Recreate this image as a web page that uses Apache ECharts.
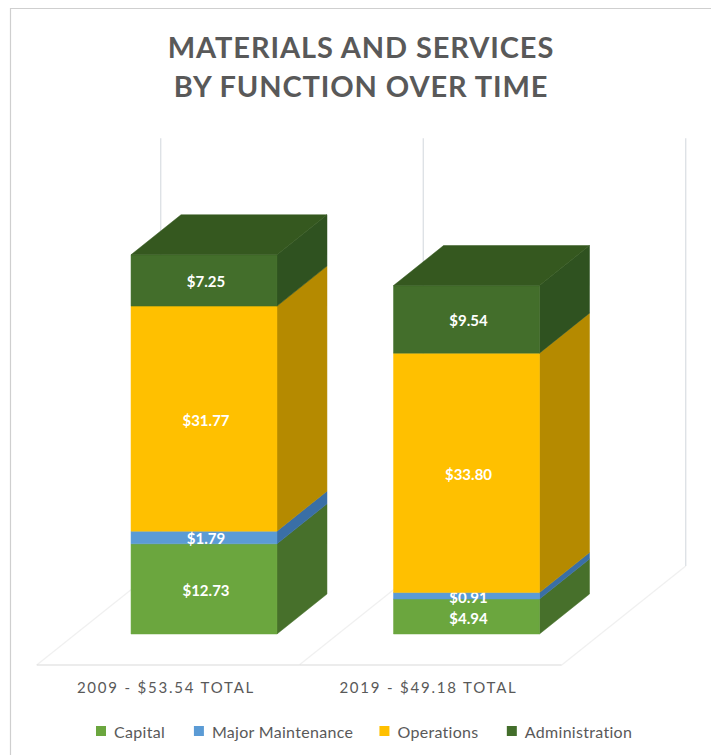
<!DOCTYPE html>
<html>
<head>
<meta charset="utf-8">
<style>html,body{margin:0;padding:0;background:#fff}#c{width:711px;height:755px}</style>
<script src="https://cdn.jsdelivr.net/npm/echarts@6/dist/echarts.min.js"></script>
</head>
<body>
<div id="c"></div>
<script>
const titleText = 'MATERIALS AND SERVICES\nBY FUNCTION OVER TIME';
const categories = ['2009 - $53.54 TOTAL', '2019 - $49.18 TOTAL'];
const seriesNames = ['Capital', 'Major Maintenance', 'Operations', 'Administration'];
const capital = [12.73, 4.94];
const majorMaintenance = [1.79, 0.91];
const operations = [31.77, 33.80];
const administration = [7.25, 9.54];
const valuesBySeries = [capital, majorMaintenance, operations, administration];
const frontColors = ['#6BA63E', '#5B9BD5', '#FFC000', '#436E2B'];
const sideColors = ['#47702B', '#3A6FA6', '#B58A00', '#2F5220'];
const topColor = '#35581F';

const depthX = 50, depthY = -40;          // bar depth in pixels
const barShare = 0.556;                   // bar width / band width
const floorFront = [-36, 31], floorBack = [88, -68];

function renderBar(seriesIndex) {
  return function (params, api) {
    const cat = api.value(0), lo = api.value(1), hi = api.value(2);
    const c0 = api.coord([cat, lo]), c1 = api.coord([cat, hi]);
    const w = api.size([1, 0])[0] * barShare;
    const xL = c0[0] - w / 2, xR = c0[0] + w / 2, yB = c0[1], yT = c1[1];
    const side = sideColors[seriesIndex], front = frontColors[seriesIndex];
    const children = [
      { type: 'polygon', shape: { points: [[xR, yB], [xR + depthX, yB + depthY], [xR + depthX, yT + depthY], [xR, yT]] },
        style: { fill: side, stroke: side, lineWidth: 0.5 } },
      { type: 'rect', shape: { x: xL, y: yT, width: w, height: yB - yT },
        style: { fill: front, stroke: front, lineWidth: 0.5 } }
    ];
    if (seriesIndex === valuesBySeries.length - 1) {
      children.push({ type: 'polygon',
        shape: { points: [[xL, yT], [xL + depthX, yT + depthY], [xR + depthX, yT + depthY], [xR, yT]] },
        style: { fill: topColor, stroke: topColor, lineWidth: 0.5 } });
    }
    children.push({ type: 'text', z2: 10,
      style: { text: '$' + (hi - lo).toFixed(2), x: c0[0] + 2, y: (yB + yT) / 2 + 1, align: 'center', verticalAlign: 'middle',
        fill: '#ffffff', font: 'bold 15px Lato, "Open Sans", sans-serif' } });
    return { type: 'group', children };
  };
}

function renderWall(params, api) {
  const i = api.value(0);
  const band = api.size([1, 0])[0];
  const base = api.coord([0, 0]);
  const x = base[0] - band / 2 + i * band, y = base[1];
  const topY = api.coord([0, 70])[1];
  const line = (a, b, stroke) => ({ type: 'line',
    shape: { x1: a[0], y1: a[1], x2: b[0], y2: b[1] }, style: { stroke, lineWidth: 1.2 } });
  const f = [x + floorFront[0], y + floorFront[1]];
  const k = [x + floorBack[0], y + floorBack[1]];
  const kids = [ line(f, k, '#f0f0f0'), line(k, [k[0], topY], '#d9dde2') ];
  if (i < categories.length) {
    kids.push(line(f, [f[0] + band, f[1]], '#d9d9d9'));
  }
  return { type: 'group', children: kids };
}

const barSeries = seriesNames.map((name, s) => ({
  name, type: 'custom', coordinateSystem: 'cartesian2d',
  itemStyle: { color: frontColors[s] }, z: 5 + s,
  encode: { x: 0, y: [1, 2] },
  renderItem: renderBar(s),
  data: categories.map((_, c) => {
    let lo = 0;
    for (let j = 0; j < s; j++) lo += valuesBySeries[j][c];
    return [c, lo, lo + valuesBySeries[s][c]];
  })
}));

const chart = echarts.init(document.getElementById('c'), null, { renderer: 'svg' });
chart.setOption({
  animation: false,
  backgroundColor: '#ffffff',
  title: { text: titleText, left: 356, top: 22, textAlign: 'center',
    textStyle: { color: '#595959', fontFamily: 'Lato, "Open Sans", sans-serif', fontWeight: 'bold', fontSize: 29, lineHeight: 39 } },
  legend: { data: seriesNames, left: 91, top: 718, icon: 'rect', itemWidth: 10, itemHeight: 10, itemGap: 31,
    textStyle: { color: '#595959', fontFamily: 'Lato, "Open Sans", sans-serif', fontSize: 16, padding: [0, 0, 0, 3] } },
  grid: { left: 72.75, right: 113.25, top: 209, bottom: 121 },
  xAxis: { type: 'category', data: categories,
    axisLine: { show: false }, axisTick: { show: false },
    axisLabel: { color: '#595959', fontFamily: 'Lato, "Open Sans", sans-serif', fontSize: 15, margin: 45, padding: [0, 76, 0, 0] } },
  yAxis: { type: 'value', min: 0, max: 60, show: false, splitLine: { show: false } },
  graphic: [{ type: 'polyline', silent: true, z: -1,
    shape: { points: [[10.5, 755], [10.5, 8.5], [711, 8.5]] },
    style: { stroke: '#cfcfcf', lineWidth: 1.2, fill: 'none' } }],
  series: [{ name: 'wall', type: 'custom', coordinateSystem: 'cartesian2d', z: 1, silent: true,
    renderItem: renderWall, encode: { x: 0 },
    data: [[0], [1], [2]] }].concat(barSeries)
});

function track() {
  document.querySelectorAll('#c text').forEach(t => {
    const s = t.textContent;
    if (s.indexOf('MATERIALS') === 0 || s.indexOf('BY FUNCTION') === 0) t.setAttribute('letter-spacing', '0.9');
    else if (categories.indexOf(s) >= 0) t.setAttribute('letter-spacing', '1.8');
    else if (seriesNames.indexOf(s) >= 0) t.setAttribute('letter-spacing', '0.3');
  });
}
chart.on('finished', track);
track();
</script>
</body>
</html>
